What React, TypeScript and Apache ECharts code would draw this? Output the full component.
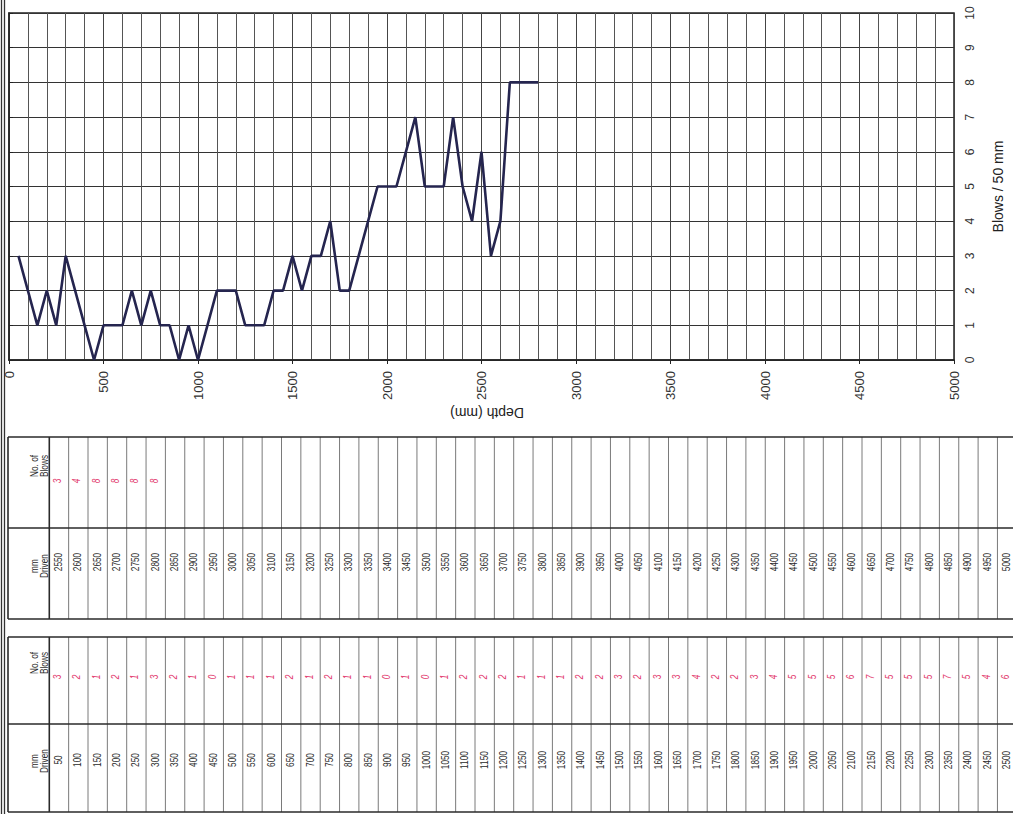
import React, { useEffect, useRef } from "react";
import * as echarts from "echarts";

// Depth (mm) for the lower table (first 50 readings)
const depthsLower = [
  50, 100, 150, 200, 250, 300, 350, 400, 450, 500,
  550, 600, 650, 700, 750, 800, 850, 900, 950, 1000,
  1050, 1100, 1150, 1200, 1250, 1300, 1350, 1400, 1450, 1500,
  1550, 1600, 1650, 1700, 1750, 1800, 1850, 1900, 1950, 2000,
  2050, 2100, 2150, 2200, 2250, 2300, 2350, 2400, 2450, 2500,
];
const blowsLower = [
  3, 2, 1, 2, 1, 3, 2, 1, 0, 1,
  1, 1, 2, 1, 2, 1, 1, 0, 1, 0,
  1, 2, 2, 2, 1, 1, 1, 2, 2, 3,
  2, 3, 3, 4, 2, 2, 3, 4, 5, 5,
  5, 6, 7, 5, 5, 5, 7, 5, 4, 6,
];
// Upper table
const depthsUpper = [
  2550, 2600, 2650, 2700, 2750, 2800, 2850, 2900, 2950, 3000,
  3050, 3100, 3150, 3200, 3250, 3300, 3350, 3400, 3450, 3500,
  3550, 3600, 3650, 3700, 3750, 3800, 3850, 3900, 3950, 4000,
  4050, 4100, 4150, 4200, 4250, 4300, 4350, 4400, 4450, 4500,
  4550, 4600, 4650, 4700, 4750, 4800, 4850, 4900, 4950, 5000,
];
const blowsUpper = [3, 4, 8, 8, 8, 8];

const xTicks = [0, 500, 1000, 1500, 2000, 2500, 3000, 3500, 4000, 4500, 5000];

const FONT = "'Liberation Sans', Arial, sans-serif";

function buildTable(
  top: number,
  divider: number,
  bottom: number,
  depths: number[],
  blows: number[],
  y: { hBlows: number; vBlows: number; hDrv: number; vDrv: number }
) {
  const els: any[] = [];
  const left = 8;
  const hdrRight = 49.3;
  const colW = 19.35;
  const right = 1013;
  const dark = "#2a2a2a";
  for (let k = 1; k <= depths.length; k++) {
    const x = hdrRight + k * colW;
    els.push({
      type: "line",
      shape: { x1: x, y1: top, x2: x, y2: bottom },
      style: { stroke: "#7a7a7a", lineWidth: 1 },
      silent: true,
    });
  }
  [left, hdrRight].forEach((x) =>
    els.push({
      type: "line",
      shape: { x1: x, y1: top, x2: x, y2: bottom },
      style: { stroke: dark, lineWidth: 1.6 },
      silent: true,
    })
  );
  [top, divider, bottom].forEach((yy) =>
    els.push({
      type: "line",
      shape: { x1: left, y1: yy, x2: right, y2: yy },
      style: { stroke: dark, lineWidth: 1.6 },
      silent: true,
    })
  );
  const txt = (
    text: string,
    x: number,
    yy: number,
    fill: string,
    size: number,
    italic = false
  ) => ({
    type: "text",
    x,
    y: yy,
    rotation: Math.PI / 2,
    scaleX: 0.72,
    scaleY: 1,
    silent: true,
    style: {
      text,
      fill,
      fontSize: size,
      fontFamily: FONT,
      fontStyle: italic ? "italic" : "normal",
      lineHeight: 10,
      align: "center",
      verticalAlign: "middle",
      textAlign: "center",
      textVerticalAlign: "middle",
    },
  });
  els.push(txt("No. of\nBlows", 38.8, y.hBlows, "#2a2a2a", 11.5));
  els.push(txt("mm\nDriven", 38.8, y.hDrv, "#2a2a2a", 11.5));
  depths.forEach((d, i) => {
    const cx = hdrRight + (i + 0.5) * colW - 1;
    els.push(txt(String(d), cx, y.vDrv, "#2a2a2a", 11.5));
    if (i < blows.length) {
      els.push(txt(String(blows[i]), cx - 1, y.vBlows, "#e23a6e", 11.5, true));
    }
  });
  return els;
}

export default function App() {
  const ref = useRef<HTMLDivElement>(null);
  useEffect(() => {
    document.body.style.margin = "0";
    document.body.style.overflow = "hidden";
    if (!ref.current) return;
    const chart = echarts.init(ref.current, undefined, { renderer: "svg" });
    const allDepths = depthsLower.concat(depthsUpper);
    const allBlows = blowsLower.concat(blowsUpper);
    const lineData = allBlows.map((b, i) => [allDepths[i], b]);

    const graphics: any[] = [
      {
        type: "line",
        shape: { x1: 1.5, y1: 0, x2: 1.5, y2: 814 },
        style: { stroke: "#333", lineWidth: 1.3 },
        silent: true,
      },
      {
        type: "line",
        shape: { x1: 4.5, y1: 0, x2: 4.5, y2: 814 },
        style: { stroke: "#333", lineWidth: 1.3 },
        silent: true,
      },
      {
        type: "text",
        x: 487,
        y: 413,
        rotation: Math.PI,
        silent: true,
        style: {
          text: "Depth (mm)",
          fill: "#222",
          fontSize: 14,
          fontFamily: FONT,
          align: "center",
          verticalAlign: "middle",
          textAlign: "center",
          textVerticalAlign: "middle",
        },
      },
      ...buildTable(437, 528, 619, depthsUpper, blowsUpper, {
        hBlows: 466,
        vBlows: 481,
        hDrv: 566,
        vDrv: 562,
      }),
      ...buildTable(637, 724, 812, depthsLower, blowsLower, {
        hBlows: 663,
        vBlows: 677,
        hDrv: 761,
        vDrv: 760,
      }),
    ];

    chart.setOption({
      animation: false,
      backgroundColor: "#ffffff",
      grid: {
        left: 9,
        right: 49,
        top: 13,
        bottom: 454,
        show: true,
        borderColor: "#222",
        borderWidth: 1.5,
        backgroundColor: "#fff",
      },
      xAxis: {
        type: "value",
        min: xTicks[0],
        max: xTicks[xTicks.length - 1],
        interval: 500,
        axisLine: { show: true, lineStyle: { color: "#222", width: 1.5 } },
        axisTick: { show: true, length: 4, lineStyle: { color: "#222" } },
        axisLabel: {
          rotate: 90,
          margin: 11,
          fontSize: 13,
          fontFamily: FONT,
          color: "#333",
          formatter: (v: number) => String(v),
        },
        splitLine: { show: true, lineStyle: { color: "#444", width: 1 } },
        minorTick: { show: false, splitNumber: 5 },
        minorSplitLine: { show: true, lineStyle: { color: "#555", width: 1 } },
      },
      yAxis: {
        type: "value",
        position: "right",
        min: 0,
        max: 10,
        interval: 1,
        name: "Blows / 50 mm",
        nameLocation: "middle",
        nameRotate: 90,
        nameGap: 37,
        nameTextStyle: { fontSize: 14, fontFamily: FONT, color: "#222" },
        axisLine: { show: true, lineStyle: { color: "#222", width: 1.5 } },
        axisTick: { show: true, inside: false, length: 4, lineStyle: { color: "#222" } },
        axisLabel: {
          rotate: 90,
          margin: 10,
          fontSize: 12,
          fontFamily: FONT,
          color: "#333",
          formatter: (v: number) => String(v),
        },
        splitLine: { show: true, lineStyle: { color: "#333", width: 1 } },
      },
      series: [
        {
          type: "line",
          data: lineData,
          showSymbol: false,
          symbol: "none",
          lineStyle: { color: "#25254f", width: 2.6 },
          itemStyle: { color: "#25254f" },
        },
      ],
      graphic: graphics,
    });
    return () => chart.dispose();
  }, []);
  return <div ref={ref} style={{ width: 1013, height: 814 }} />;
}
